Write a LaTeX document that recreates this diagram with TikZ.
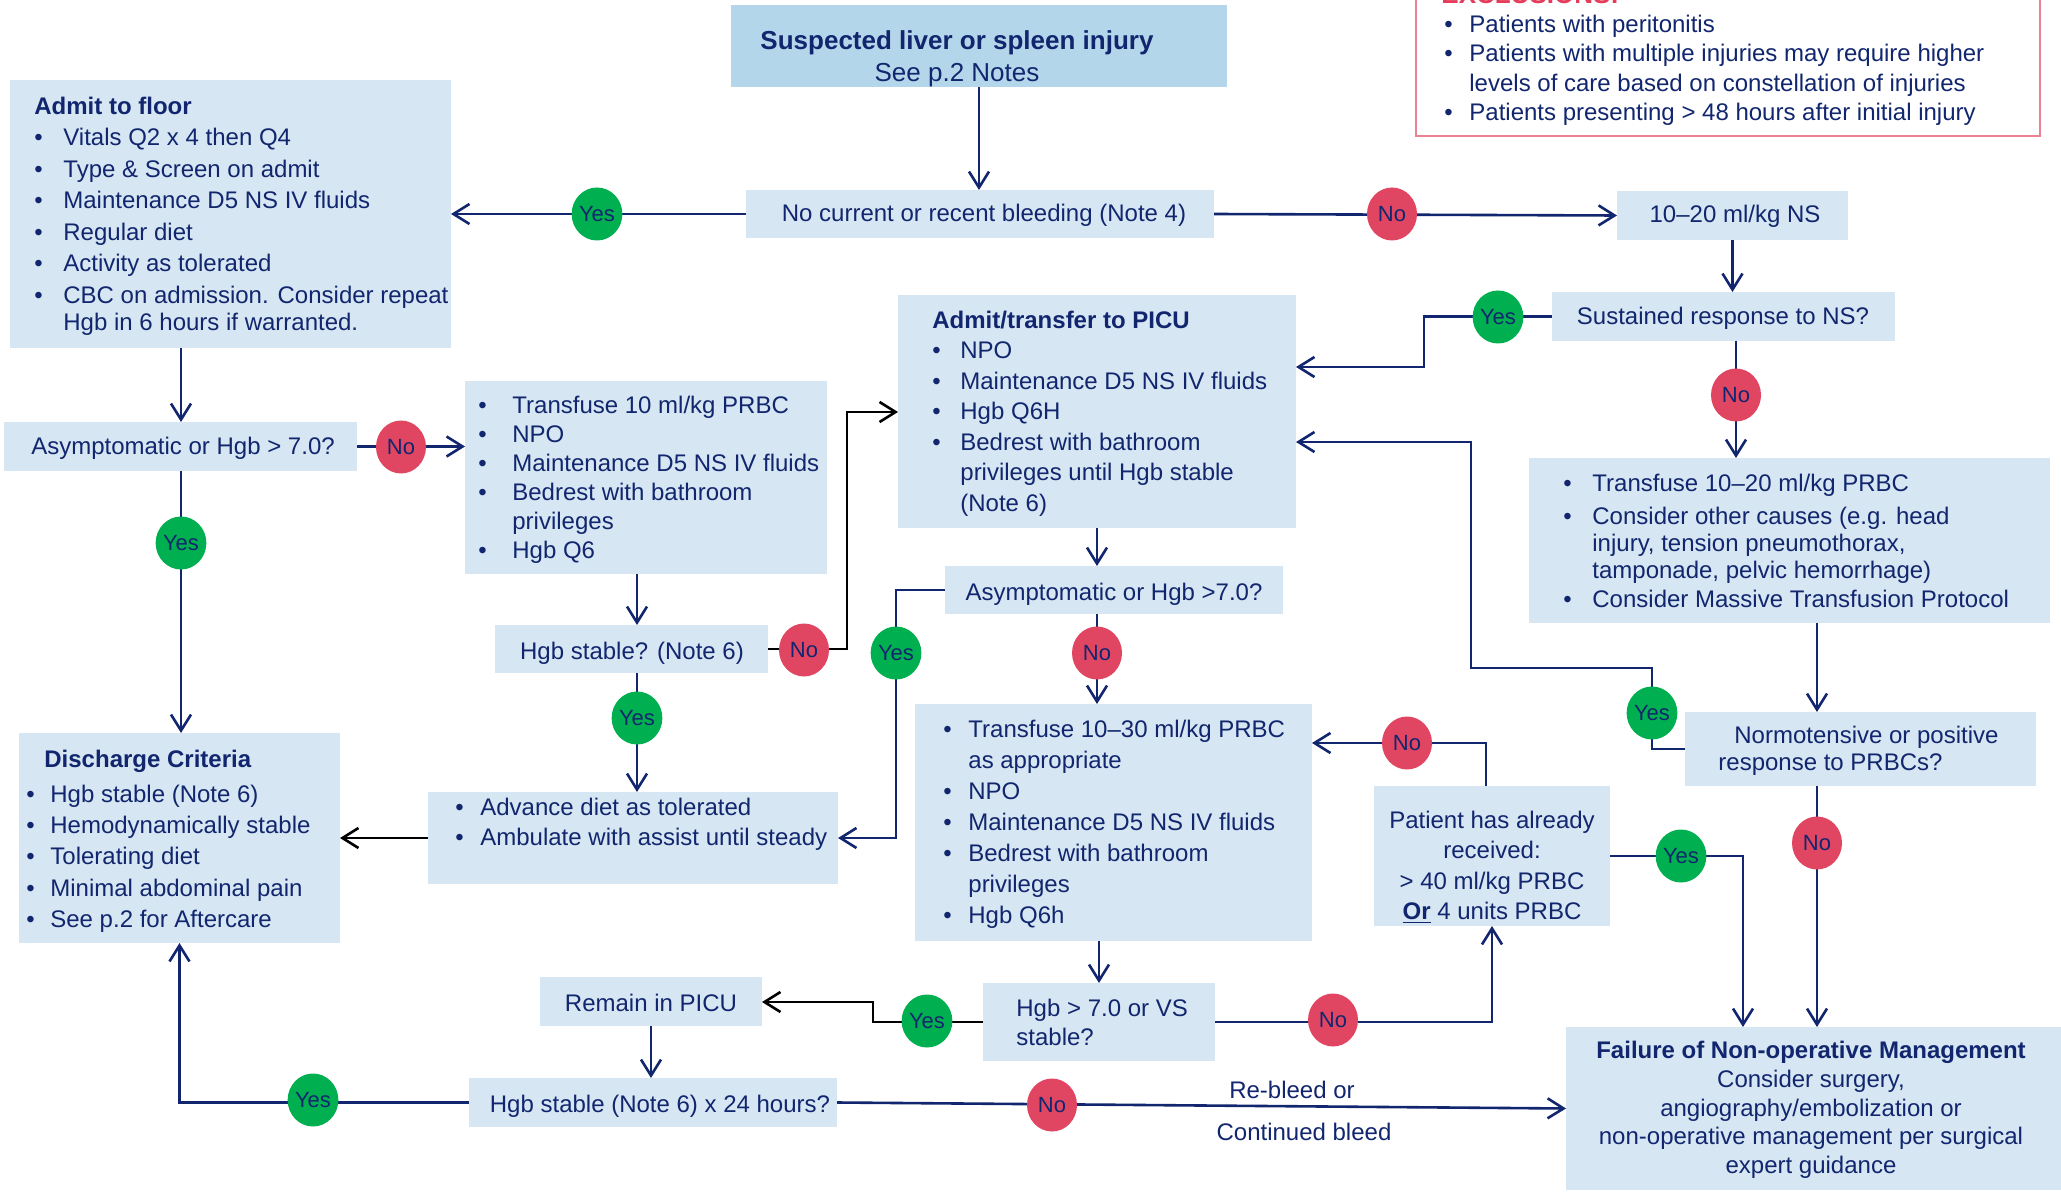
\documentclass[tikz,border=0pt]{standalone}
\usepackage{fontspec}
\setmainfont{Liberation Sans}
\usetikzlibrary{arrows.meta,fit,shapes.geometric}
\definecolor{navy}{RGB}{17,38,110}
\definecolor{boxfill}{RGB}{214,230,242}
\definecolor{topfill}{RGB}{180,214,234}
\definecolor{yesg}{RGB}{0,176,80}
\definecolor{nor}{RGB}{224,70,98}
\definecolor{exborder}{RGB}{234,130,148}
\definecolor{exred}{RGB}{228,60,90}
\newlength\bind
\newcommand\bu{\makebox[\bind][l]{\textbullet}}
\newcommand\nb{\hspace*{\bind}}
\begin{document}
\begin{tikzpicture}[x=0.5pt,y=-0.5pt,
  bx/.style={fill=boxfill, inner sep=0pt, outer sep=0pt, fit={#1}},
  txt/.style={inner sep=0pt, text=navy, align=left, anchor=north west},
  ctxt/.style={inner sep=0pt, text=navy, align=center, anchor=north},
  fsz/.style={font=\fontsize{12}{#1}\selectfont},
  lab/.style={inner sep=0pt, text=navy, anchor=base, font=\fontsize{12}{14}\selectfont},
  bi/.code={\global\bind=#1\relax},
  arr/.style={draw=navy, line width=1.3pt, -{Straight Barb[length=8pt,width=10pt]}},
  arrk/.style={arr, draw=black},
  dc/.style={ellipse, inner sep=0pt, minimum width=25pt, minimum height=26.5pt, text=navy, font=\fontsize{11}{13}\selectfont},
  yc/.style={dc, fill=yesg},
  nc/.style={dc, fill=nor},
]
\useasboundingbox (0,0) rectangle (2061,1192);

% ---------- exclusions (cut at top) ----------
\begin{scope}
\clip (0,0) rectangle (2061,1192);
\node[draw=exborder, line width=1pt, fill=white, inner sep=0pt, fit={(1416,-20) (2040,136)}] (excl) {};
\node[anchor=base west, inner sep=0pt, text=exred, font=\fontsize{13}{15}\selectfont\bfseries] (exh) at (1441,4) {EXCLUSIONS:};
\end{scope}
\node[txt, fsz=14.67pt, bi=12.5pt] (texcl) at (1444,11.5) {\strut\bu Patients with peritonitis\\
\bu Patients with multiple injuries may require higher\\
\nb levels of care based on constellation of injuries\\
\bu Patients presenting > 48 hours after initial injury};

% ---------- boxes ----------
\node[bx={(731,5) (1227,87)}, fill=topfill] (start) {};
\node[bx={(746,190) (1214,238)}] (nocur) {};
\node[bx={(10,80) (451,348)}] (floor) {};
\node[bx={(1617,191) (1848,240)}] (ns) {};
\node[bx={(1552,292) (1895,341)}] (sust) {};
\node[bx={(898,295) (1296,528)}] (picu) {};
\node[bx={(1529,458) (2050,623)}] (tr20) {};
\node[bx={(4,422) (357,471)}] (asyma) {};
\node[bx={(465,381) (827,574)}] (tr10) {};
\node[bx={(495,625) (768,673)}] (hgbst) {};
\node[bx={(428,792) (838,884)}] (adv) {};
\node[bx={(19,733) (340,943)}] (dis) {};
\node[bx={(945,566) (1283,614)}] (asymb) {};
\node[bx={(915,704) (1312,941)}] (tr30) {};
\node[bx={(1374,786) (1610,926)}] (pat) {};
\node[bx={(1685,712) (2036,786)}] (norm) {};
\node[bx={(983,983) (1215,1061)}] (hgbvs) {};
\node[bx={(540,977) (762,1026)}] (remain) {};
\node[bx={(469,1078) (837,1127)}] (hgbday) {};
\node[bx={(1566,1027) (2061,1190)}] (fail) {};

% ---------- texts ----------
\node[ctxt, font=\fontsize{13}{16}\selectfont] (tstart) at (957,26.3) {\strut\textbf{Suspected liver or spleen injury}\\See p.2 Notes};
\node[lab] (tnocur) at (984,222) {No current or recent bleeding (Note 4)};
\node[txt, fsz=15.75pt, bi=14.5pt] (tfloor) at (34,92) {\strut\textbf{Admit to floor}\\
\bu Vitals Q2 x 4 then Q4\\
\bu Type \& Screen on admit\\
\bu Maintenance D5 NS IV fluids\\
\bu Regular diet\\
\bu Activity as tolerated\\
\bu CBC on admission. Consider repeat\\[-2.25pt]
\nb Hgb in 6 hours if warranted.};
\node[lab] (tns) at (1735,223) {10--20 ml/kg NS};
\node[lab] (tsust) at (1723,325) {Sustained response to NS?};
\node[txt, fsz=15.25pt, bi=14pt] (tpicu) at (932,306.6) {\strut\textbf{Admit/transfer to PICU}\\
\bu NPO\\
\bu Maintenance D5 NS IV fluids\\
\bu Hgb Q6H\\
\bu Bedrest with bathroom\\
\nb privileges until Hgb stable\\
\nb (Note 6)};
\node[txt, fsz=13.5pt, bi=14.5pt] (ttr20) at (1563,472) {\strut\bu Transfuse 10--20 ml/kg PRBC\\[3pt]
\bu Consider other causes (e.g. head\\
\nb injury, tension pneumothorax,\\
\nb tamponade, pelvic hemorrhage)\\[1pt]
\bu Consider Massive Transfusion Protocol};
\node[lab] (tasyma) at (183,455) {Asymptomatic or Hgb > 7.0?};
\node[txt, fsz=14.5pt, bi=17pt] (ttr10) at (478,392.7) {\strut\bu Transfuse 10 ml/kg PRBC\\
\bu NPO\\
\bu Maintenance D5 NS IV fluids\\
\bu Bedrest with bathroom\\
\nb privileges\\
\bu Hgb Q6};
\node[lab] (thgbst) at (632,659) {Hgb stable? (Note 6)};
\node[txt, fsz=15pt, bi=12.5pt] (tadv) at (455,794) {\strut\bu Advance diet as tolerated\\
\bu Ambulate with assist until steady};
\node[txt, fsz=15.6pt, bi=12pt] (tdis) at (26,745) {\strut\hspace*{9pt}\textbf{Discharge Criteria}\\[2pt]
\bu Hgb stable (Note 6)\\
\bu Hemodynamically stable\\
\bu Tolerating diet\\
\bu Minimal abdominal pain\\
\bu See p.2 for Aftercare};
\node[lab] (tasymb) at (1114,600) {Asymptomatic or Hgb >7.0?};
\node[txt, fsz=15.5pt, bi=12.5pt] (ttr30) at (943,715.3) {\strut\bu Transfuse 10--30 ml/kg PRBC\\
\nb as appropriate\\
\bu NPO\\
\bu Maintenance D5 NS IV fluids\\
\bu Bedrest with bathroom\\
\nb privileges\\
\bu Hgb Q6h};
\node[ctxt, fsz=15.2pt] (tpat) at (1492,806.7) {\strut Patient has already\\
received:\\
> 40 ml/kg PRBC\\
\underline{\textbf{Or}} 4 units PRBC};
\node[txt, fsz=13.5pt] (tnorm) at (1718,724) {\strut\hspace*{8pt}Normotensive or positive\\
response to PRBCs?};
\node[txt, fsz=14.5pt] (thgbvs) at (1016,995.7) {\strut Hgb > 7.0 or VS\\
stable?};
\node[lab] (tremain) at (651,1011) {Remain in PICU};
\node[lab] (thgbday) at (660,1112) {Hgb stable (Note 6) x 24 hours?};
\node[ctxt, fsz=14.4pt] (tfail) at (1811,1038) {\strut\textbf{Failure of Non-operative Management}\\
Consider surgery,\\
angiography/embolization or\\
non-operative management per surgical\\
expert guidance};
\node[lab] (treb) at (1292,1098) {Re-bleed or};
\node[lab] (tcont) at (1304,1140) {Continued bleed};

% ---------- decision markers (positions) ----------
\coordinate (py1) at (597,214);
\coordinate (pn1) at (1392,214);
\coordinate (py2) at (1498,317);
\coordinate (pn2) at (1736,395);
\coordinate (pn3) at (401,447);
\coordinate (py3) at (181,543);
\coordinate (pn4) at (804,650);
\coordinate (py4) at (637,718);
\coordinate (py5) at (896,653);
\coordinate (pn5) at (1097,653);
\coordinate (pn6) at (1407,743);
\coordinate (py6) at (1652,713);
\coordinate (py7) at (1681,856);
\coordinate (pn7) at (1817,843);
\coordinate (pn8) at (1333,1020);
\coordinate (py8) at (927,1021);
\coordinate (pn9) at (1052,1105);
\coordinate (py9) at (313,1100);

% ---------- bend points ----------
\coordinate (c1) at (1424,367);
\coordinate (c2) at (1652,668);
\coordinate (c3) at (1471,442);
\coordinate (c4) at (847,412);
\coordinate (c5) at (896,838);
\coordinate (c6) at (1486,743);
\coordinate (c7) at (1743,856);
\coordinate (c8) at (1492,1022);
\coordinate (c9) at (873,1002);

% ---------- connectors ----------
\draw[arr] (start.south) -- (start.south |- nocur.north);
\draw[arr] (nocur.west) -- (floor.east);
\draw[arr] (nocur.east) -- (ns.west);
\draw[arr] (ns.south) -- (ns.south |- sust.north);
\draw[arr] (sust.west) -| (c1) -- (c1 -| picu.east);
\draw[arr] (sust.south -| pn2) -- (pn2 |- tr20.north);
\draw[arr] (tr20.south -| pn7) -- (pn7 |- norm.north);
\draw[arr] (norm.west) -| (c2) -| (c3) -- (c3 -| picu.east);
\draw[arr] (norm.south -| pn7) -- (pn7 |- fail.north);
\draw[arr] (floor.south -| py3) -- (py3 |- asyma.north);
\draw[arr] (asyma.south -| py3) -- (py3 |- dis.north);
\draw[arr] (asyma.east) -- (asyma.east -| tr10.west);
\draw[arr] (tr10.south -| py4) -- (py4 |- hgbst.north);
\draw[arrk] (hgbst.east) -| (c4) -- (c4 -| picu.west);
\draw[arr] (hgbst.south -| py4) -- (py4 |- adv.north);
\draw[arrk] (adv.west) -- (dis.east);
\draw[arr] (picu.south) -- (picu.south |- asymb.north);
\draw[arr] (asymb.west) -| (c5) -- (c5 -| adv.east);
\draw[arr] (asymb.south -| pn5) -- (pn5 |- tr30.north);
\draw[arr] (hgbvs.north |- tr30.south) -- (hgbvs.north);
\draw[arr] (c6 |- pat.north) -- (c6) -- (c6 -| tr30.east);
\draw[arr] (pat.east |- c7) -- (c7) -- (c7 |- fail.north);
\draw[arr] (hgbvs.east |- c8) -- (c8) -- (c8 |- pat.south);
\draw[arrk] (hgbvs.west |- c8) -| (c9) -- (c9 -| remain.east);
\draw[arr] (remain.south) -- (remain.south |- hgbday.north);
\draw[arr] (hgbday.west) -| (dis.south);
\draw[arr] (hgbday.east) -- (fail.west);

% ---------- yes / no markers ----------
\node[yc] (y1) at (py1) {Yes};
\node[nc] (n1) at (pn1) {No};
\node[yc] (y2) at (py2) {Yes};
\node[nc] (n2) at (pn2) {No};
\node[nc] (n3) at (pn3) {No};
\node[yc] (y3) at (py3) {Yes};
\node[nc] (n4) at (pn4) {No};
\node[yc] (y4) at (py4) {Yes};
\node[yc] (y5) at (py5) {Yes};
\node[nc] (n5) at (pn5) {No};
\node[nc] (n6) at (pn6) {No};
\node[yc] (y6) at (py6) {Yes};
\node[yc] (y7) at (py7) {Yes};
\node[nc] (n7) at (pn7) {No};
\node[nc] (n8) at (pn8) {No};
\node[yc] (y8) at (py8) {Yes};
\node[nc] (n9) at (pn9) {No};
\node[yc] (y9) at (py9) {Yes};
\end{tikzpicture}
\end{document}
